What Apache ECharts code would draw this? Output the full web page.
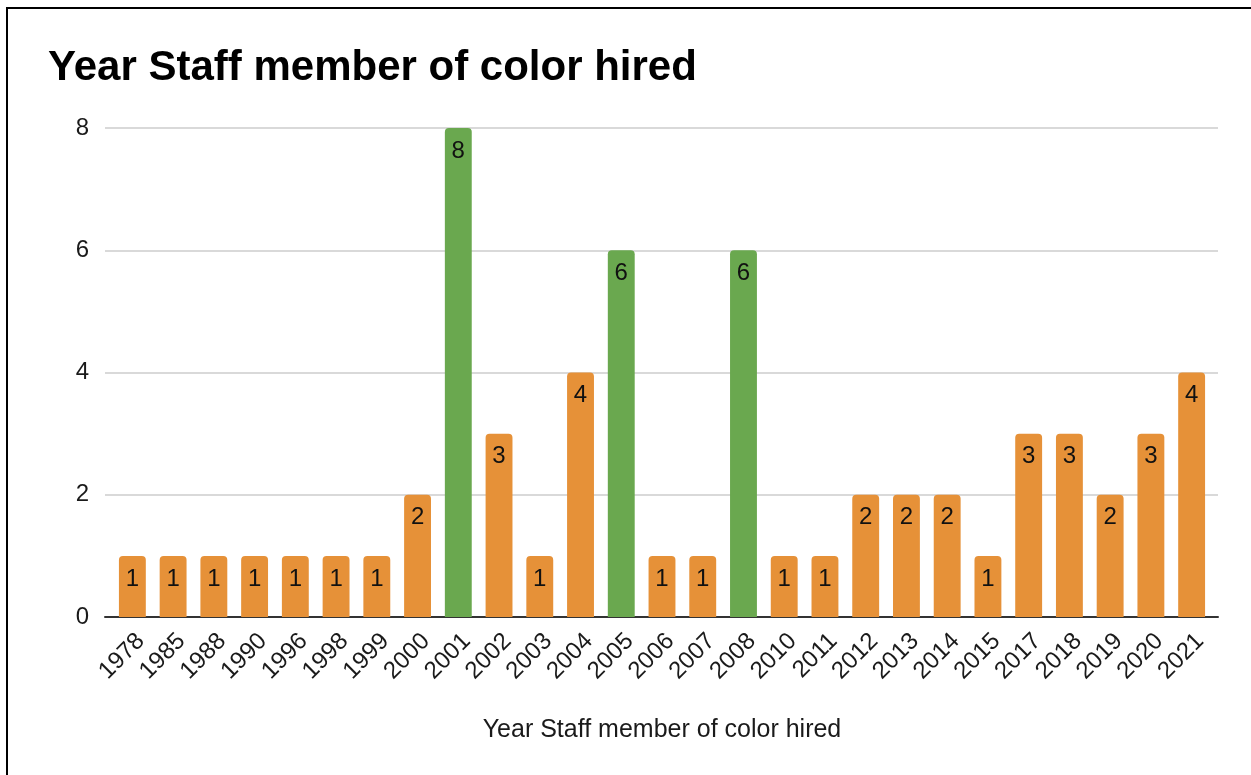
<!DOCTYPE html>
<html>
<head>
<meta charset="utf-8">
<script src="https://cdn.jsdelivr.net/npm/echarts@6/dist/echarts.min.js"></script>
<style>
    html, body { margin: 0; padding: 0; background: #fff; }
    #frame { position: absolute; left: 6px; top: 7px; width: 1245px; height: 768px; border-top: 2px solid #000; border-left: 2px solid #000; box-sizing: border-box; }
    #main { position: absolute; left: 0; top: 0; width: 1251px; height: 775px; }
</style>
</head>
<body>
<div id="main"></div>
<div id="frame"></div>
<script>
    // 年份
    const years = ['1978', '1985', '1988', '1990', '1996', '1998', '1999', '2000', '2001', '2002', '2003', '2004', '2005', '2006',
        '2007', '2008', '2010', '2011', '2012', '2013', '2014', '2015', '2017', '2018', '2019', '2020', '2021'];
    // 人数
    const hired = [1, 1, 1, 1, 1, 1, 1, 2, 8, 3, 1, 4, 6, 1, 1, 6, 1, 1, 2, 2, 2, 1, 3, 3, 2, 3, 4];
    // 绿色柱子的年份
    const greenYears = ['2001', '2005', '2008'];
    const yTicks = [0, 2, 4, 6, 8];

    const orange = '#e69138';
    const green = '#6aa84f';
    const font = 'Liberation Sans, Arial, sans-serif';
    const textColor = '#1a1a1a';

    let myChart = echarts.init(document.getElementById('main'));
    myChart.setOption({
        animation: false,
        title: {
            text: 'Year Staff member of color hired',
            left: 43,
            top: 42,
            textStyle: { fontFamily: font, fontSize: 42, fontWeight: 'bold', color: '#000' }
        },
        grid: [
            { left: 112, right: 39, top: 128, bottom: 158 },   //柱子
            { left: 105, right: 33, top: 128, bottom: 158 }    //网格线，比柱子区域宽一点
        ],
        xAxis: [{
            type: 'category',
            gridIndex: 0,
            data: years,
            name: 'Year Staff member of color hired',
            nameLocation: 'middle',
            nameGap: 101,
            nameTextStyle: { fontFamily: font, fontSize: 25, color: textColor },
            axisLine: { show: false },
            axisTick: { show: false },
            axisLabel: { rotate: 45, fontFamily: font, fontSize: 24, color: textColor, margin: 12, interval: 0, verticalAlign: 'top' }
        }, {
            type: 'value',
            gridIndex: 1,
            min: 0,
            max: 1,
            axisLine: { show: true, lineStyle: { color: '#333', width: 2 } },
            axisTick: { show: false },
            axisLabel: { show: false },
            splitLine: { show: false }
        }],
        yAxis: [{
            type: 'value',
            gridIndex: 0,
            min: yTicks[0],
            max: yTicks[yTicks.length - 1],
            interval: 2,
            axisLine: { show: false },
            axisTick: { show: false },
            axisLabel: { fontFamily: font, fontSize: 24, color: textColor, margin: 23 },
            splitLine: { show: false }
        }, {
            type: 'value',
            gridIndex: 1,
            min: yTicks[0],
            max: yTicks[yTicks.length - 1],
            interval: 2,
            axisLine: { show: false },
            axisTick: { show: false },
            axisLabel: { show: false },
            splitLine: { lineStyle: { color: '#ccc', width: 1.5 } }
        }],
        series: [{
            type: 'bar',
            xAxisIndex: 0,
            yAxisIndex: 0,
            barWidth: '66%',
            z: 3,
            data: hired.map((v, i) => ({
                value: v,
                itemStyle: { color: greenYears.includes(years[i]) ? green : orange }
            })),
            itemStyle: { borderRadius: [4, 4, 0, 0] },
            label: {
                show: true,
                position: 'insideTop',
                distance: 11,
                fontFamily: font,
                fontSize: 24,
                color: '#111'
            }
        }]
    });
</script>
</body>
</html>
